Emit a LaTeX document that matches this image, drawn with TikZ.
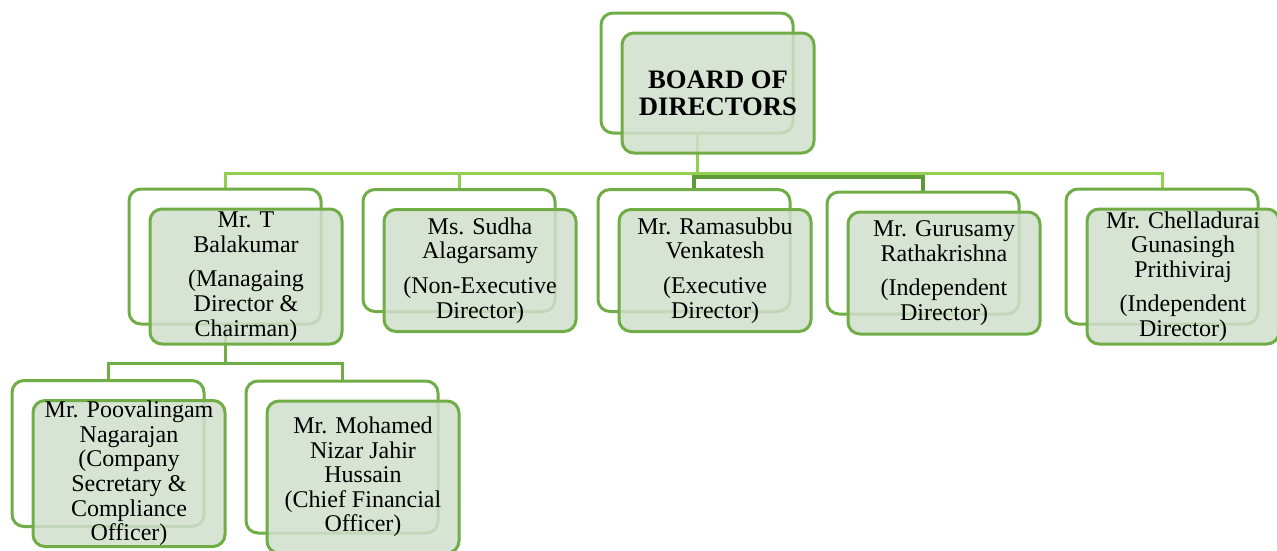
\documentclass[tikz,border=0pt]{standalone}
\usepackage{fontspec}
\setmainfont{Liberation Serif}
\usetikzlibrary{positioning,backgrounds}
\definecolor{cbox}{HTML}{70AD47}
\definecolor{cfill}{HTML}{D1DFCB}
\definecolor{cbus}{HTML}{92D050}
\definecolor{cdark}{HTML}{5E9A3A}
\tikzset{
  backbox/.style={draw=cbox, line width=2.25pt, rounded corners=9pt,
    minimum width=144pt, inner sep=0pt},
  frontbox/.style={backbox, fill=cfill, fill opacity=0.85},
  txt/.style={align=center, inner sep=0pt, font=\fontsize{18}{18.45}\selectfont},
  boardtxt/.style={align=center, inner sep=0pt, font=\fontsize{20}{20.25}\selectfont\bfseries},
  busline/.style={draw=cbus, line width=2.25pt},
  darkline/.style={draw=cdark, line width=3pt},
  subline/.style={draw=cbox, line width=2.25pt},
}

\begin{document}
\begin{tikzpicture}[x=0.75pt, y=-0.75pt]
    \useasboundingbox (0,0) rectangle (1277,550);
    \clip (0,0) rectangle (1277,550);
    % back boxes
    \node[backbox, minimum height=90pt]     (board-b) at (697,73) {};
    \node[backbox, minimum height=101.25pt] (bal-b)   at (225,256.5) {};
    \node[backbox, minimum height=91.5pt]   (sud-b)   at (459,250.5) {};
    \node[backbox, minimum height=91.5pt]   (ram-b)   at (694,250.5) {};
    \node[backbox, minimum height=91.5pt]   (gur-b)   at (923,253) {};
    \node[backbox, minimum height=101.25pt] (chel-b)  at (1162,256.5) {};
    \node[backbox, minimum height=109.5pt]  (poo-b)   at (108,453.5) {};
    \node[backbox, minimum height=114pt]    (moh-b)   at (342,457) {};
    % front boxes
    \node[frontbox, minimum height=90pt]     (board) at ([shift={(21,20)}]board-b.center) {};
    \node[frontbox, minimum height=101.25pt] (bal)   at ([shift={(21,20)}]bal-b.center) {};
    \node[frontbox, minimum height=91.5pt]   (sud)   at ([shift={(21,20)}]sud-b.center) {};
    \node[frontbox, minimum height=91.5pt]   (ram)   at ([shift={(21,20)}]ram-b.center) {};
    \node[frontbox, minimum height=91.5pt]   (gur)   at ([shift={(21,20)}]gur-b.center) {};
    \node[frontbox, minimum height=101.25pt] (chel)  at ([shift={(21,20)}]chel-b.center) {};
    \node[frontbox, minimum height=109.5pt]  (poo)   at ([shift={(21,20)}]poo-b.center) {};
    \node[frontbox, minimum height=114pt]    (moh)   at ([shift={(21,20)}]moh-b.center) {};
    % texts
    \node[boardtxt] (board-t) at (board) {BOARD OF\\DIRECTORS};
    \node[txt] (bal-t)  at (bal)  {Mr. T\\Balakumar\\[7.5pt](Managaing\\Director \&\\Chairman)};
    \node[txt] (sud-t)  at (sud)  {Ms. Sudha\\Alagarsamy\\[7.5pt](Non-Executive\\Director)};
    \node[txt] (ram-t)  at (ram)  {Mr. Ramasubbu\\Venkatesh\\[7.5pt](Executive\\Director)};
    \node[txt] (gur-t)  at (gur)  {Mr. Gurusamy\\Rathakrishna\\[7.5pt](Independent\\Director)};
    \node[txt] (chel-t) at (chel) {Mr. Chelladurai\\Gunasingh\\Prithiviraj\\[7.5pt](Independent\\Director)};
    \node[txt] (poo-t)  at (poo)  {Mr. Poovalingam\\Nagarajan\\(Company\\Secretary \&\\Compliance\\Officer)};
    \node[txt] (moh-t)  at (moh)  {Mr. Mohamed\\Nizar Jahir\\Hussain\\(Chief Financial\\Officer)};
    % connectors
    \begin{pgfonlayer}{background}
      \coordinate (bus)  at ([shift={(0,39)}]board-b.south);
      \coordinate (bus2) at ([shift={(0,3)}]bus);
      \coordinate (sub)  at ([shift={(0,38)}]bal-b.south);
      \draw[busline] (board-b.south) -- (bus);
      \draw[darkline] (ram-b.north) -- (ram-b.north |- bus2) -- (gur-b.north |- bus2) -- (gur-b.north);
      \draw[busline] (bal-b.north) -- (bal-b.north |- bus) -- (chel-b.north |- bus) -- (chel-b.north);
      \draw[busline] (sud-b.north) -- (sud-b.north |- bus);
      \draw[subline] (bal-b.south) -- (sub);
      \draw[subline] (poo-b.north) |- (sub) -| (moh-b.north);
    \end{pgfonlayer}
\end{tikzpicture}
\end{document}
